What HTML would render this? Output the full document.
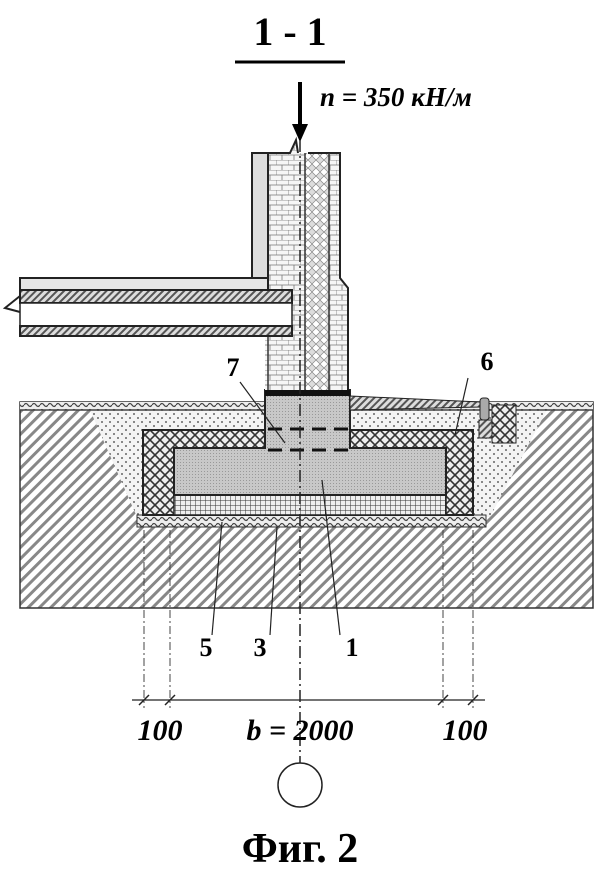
<!DOCTYPE html>
<html><head><meta charset="utf-8"><style>body{margin:0;background:#fff}svg{display:block}</style></head><body>
<svg width="604" height="870" viewBox="0 0 604 870" xmlns="http://www.w3.org/2000/svg" font-family="'Liberation Serif',serif">
<defs>
<pattern id="hatch" width="8" height="8" patternUnits="userSpaceOnUse" patternTransform="rotate(45)"><rect width="8" height="8" fill="#fff"/><rect width="3" height="8" fill="#888"/></pattern>
<pattern id="hatch2" width="5" height="5" patternUnits="userSpaceOnUse" patternTransform="rotate(45)"><rect width="5" height="5" fill="#ddd"/><rect width="2" height="5" fill="#555"/></pattern>
<pattern id="dots" width="8" height="8" patternUnits="userSpaceOnUse"><rect width="8" height="8" fill="#f4f4f4"/><circle cx="2" cy="2" r="1" fill="#666"/><circle cx="6" cy="6" r="1" fill="#666"/></pattern>
<pattern id="cross" width="10" height="10" patternUnits="userSpaceOnUse"><rect width="10" height="10" fill="#eee"/><path d="M0 0L10 10M10 0L0 10" stroke="#333" stroke-width="1.6"/></pattern>
<pattern id="grid" width="5" height="5" patternUnits="userSpaceOnUse"><rect width="5" height="5" fill="#eee"/><path d="M0 0H5M0 0V5" stroke="#333" stroke-width="1"/></pattern>
<pattern id="brick" width="12" height="10" patternUnits="userSpaceOnUse"><rect width="12" height="10" fill="#f6f6f6"/><path d="M0 0H12M0 5H12M0 0V5M6 5V10" stroke="#777" stroke-width=".8"/></pattern>
<pattern id="ins" width="8" height="8" patternUnits="userSpaceOnUse"><rect width="8" height="8" fill="#ddd"/><path d="M4 0L8 4L4 8L0 4Z" fill="#fff" stroke="#888" stroke-width=".7"/></pattern>
<pattern id="conc" width="3" height="3" patternUnits="userSpaceOnUse"><rect width="3" height="3" fill="#c8c8c8"/><rect width="1" height="1" fill="#999"/></pattern>
<pattern id="crumb" width="8" height="6" patternUnits="userSpaceOnUse"><rect width="8" height="6" fill="#eee"/><path d="M0 3Q2 0 4 3T8 3" stroke="#444" fill="none" stroke-width="1.2"/></pattern>
</defs>
<text x="290" y="45" font-size="40" font-weight="bold" text-anchor="middle">1 - 1</text>
<line x1="235" y1="62" x2="345" y2="62" stroke="#000" stroke-width="3"/>
<line x1="300" y1="82" x2="300" y2="128" stroke="#000" stroke-width="4"/>
<path d="M292 124L308 124L300 142Z" fill="#000"/>
<text x="320" y="106" font-size="27" font-weight="bold" font-style="italic">n = 350 кН/м</text>
<rect x="20" y="402" width="573" height="206" fill="url(#hatch)" stroke="#333" stroke-width="1.5"/>
<rect x="20" y="402" width="573" height="8" fill="url(#crumb)"/>
<path d="M90 410L547 410L490 517L137 517Z" fill="url(#dots)"/>
<line x1="20" y1="410" x2="593" y2="410" stroke="#444" stroke-width="1.5"/>
<rect x="137" y="515" width="349" height="12" fill="url(#crumb)" stroke="#333"/>
<rect x="143" y="430" width="330" height="85" fill="url(#cross)" stroke="#222" stroke-width="2"/>
<rect x="174" y="495" width="272" height="20" fill="url(#grid)" stroke="#222" stroke-width="1.5"/>
<path d="M174 448H265V390H350V448H446V495H174Z" fill="url(#conc)" stroke="#222" stroke-width="2"/>
<rect x="265" y="390" width="85" height="6" fill="#111"/>
<path d="M268 429H350M268 450H350" stroke="#111" stroke-width="3" stroke-dasharray="14 8"/>
<path d="M350 396L480 402L480 407L350 410Z" fill="url(#hatch2)" stroke="#222"/>
<rect x="480" y="398" width="9" height="22" rx="3" fill="#aaa" stroke="#222"/>
<rect x="479" y="420" width="22" height="18" fill="url(#hatch2)" stroke="#222"/>
<rect x="492" y="405" width="24" height="38" fill="url(#cross)" stroke="#222"/>
<path d="M252 153H290L296 140L298 153H340V278L348 288V390H265V153Z" fill="url(#brick)"/>
<rect x="252" y="153" width="16" height="125" fill="#ddd" stroke="#222" stroke-width="2"/>
<rect x="305" y="153" width="24" height="237" fill="url(#ins)"/>
<path d="M252 153H290L296 140L298 153" fill="none" stroke="#222" stroke-width="2"/>
<path d="M308 153H340V278L348 288V390" fill="none" stroke="#222" stroke-width="2"/>
<path d="M305 153V390M329 153V390M268 290V390" stroke="#333" stroke-width="1.5"/>
<rect x="20" y="278" width="248" height="12" fill="#e6e6e6" stroke="#222" stroke-width="2"/>
<rect x="20" y="290" width="272" height="13" fill="url(#hatch2)" stroke="#222" stroke-width="2"/>
<rect x="20" y="303" width="272" height="23" fill="#fff" stroke="#222" stroke-width="1.5"/>
<rect x="20" y="326" width="272" height="10" fill="url(#hatch2)" stroke="#222" stroke-width="2"/>
<path d="M20 296L5 308L20 312" fill="none" stroke="#222" stroke-width="2"/>
<line x1="300" y1="140" x2="300" y2="765" stroke="#222" stroke-width="1.5" stroke-dasharray="12 4 2 4"/>
<g stroke="#444" stroke-width="1" stroke-dasharray="8 3 2 3"><line x1="144" y1="530" x2="144" y2="708"/><line x1="170" y1="530" x2="170" y2="708"/><line x1="443" y1="530" x2="443" y2="708"/><line x1="473" y1="530" x2="473" y2="708"/></g>
<line x1="132" y1="700" x2="485" y2="700" stroke="#222" stroke-width="1.2"/>
<g stroke="#222" stroke-width="1.5"><line x1="139" y1="705" x2="149" y2="695"/><line x1="165" y1="705" x2="175" y2="695"/><line x1="438" y1="705" x2="448" y2="695"/><line x1="468" y1="705" x2="478" y2="695"/></g>
<g font-size="30" font-weight="bold" font-style="italic" text-anchor="middle"><text x="160" y="740">100</text><text x="300" y="740">b = 2000</text><text x="465" y="740">100</text></g>
<g stroke="#222" stroke-width="1.2"><line x1="240" y1="382" x2="285" y2="443"/><line x1="468" y1="378" x2="455" y2="435"/><line x1="222" y1="522" x2="212" y2="635"/><line x1="277" y1="527" x2="270" y2="635"/><line x1="322" y1="480" x2="340" y2="635"/></g>
<g font-size="26" font-weight="bold" text-anchor="middle"><text x="233" y="376">7</text><text x="487" y="370">6</text><text x="206" y="656">5</text><text x="260" y="656">3</text><text x="352" y="656">1</text></g>
<circle cx="300" cy="785" r="22" fill="#fff" stroke="#222" stroke-width="1.5"/>
<text x="300" y="862" font-size="42" font-weight="bold" text-anchor="middle">Фиг. 2</text>
</svg>
</body></html>
